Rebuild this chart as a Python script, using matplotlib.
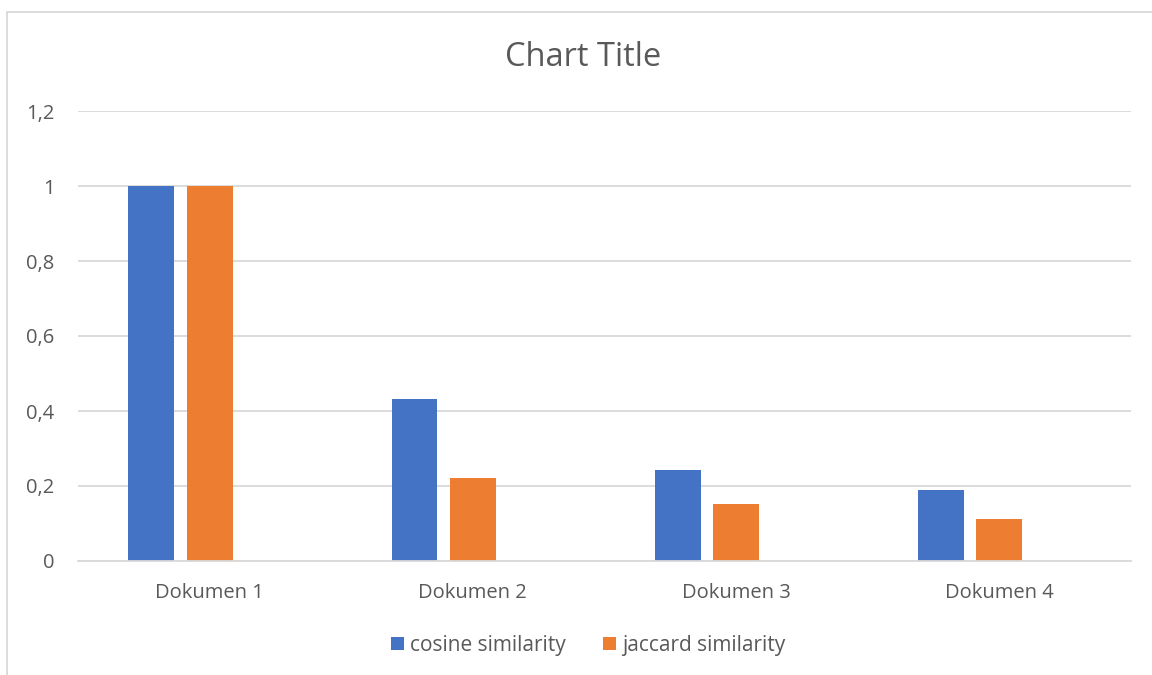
import numpy as np
import matplotlib.pyplot as plt
from matplotlib.patches import Rectangle

categories = ['Dokumen 1', 'Dokumen 2', 'Dokumen 3', 'Dokumen 4']
cosine = [1.0, 0.432, 0.244, 0.189]
jaccard = [1.0, 0.221, 0.153, 0.113]
series_names = ['cosine similarity', 'jaccard similarity']
yticks = [0, 0.2, 0.4, 0.6, 0.8, 1, 1.2]

plt.rcParams['font.family'] = ['Open Sans', 'DejaVu Sans']
txt = '#595959'
grid = '#D9D9D9'

fig = plt.figure(figsize=(11.52, 6.75), dpi=100)
ax = fig.add_axes([78/1152, 1-561/675, (1131-78)/1152, (561-111)/675])

x = np.arange(len(categories))
w = 0.174
b1 = ax.bar(x - 0.222, cosine, w, color='#4472C4', label=series_names[0])
b2 = ax.bar(x, jaccard, w, color='#ED7D31', label=series_names[1])

ax.set_xlim(-0.5, len(categories) - 0.5)
ax.set_ylim(0, 1.2)
ax.set_yticks(yticks)
ax.set_yticklabels([('%g' % v).replace('.', ',') for v in yticks])
ax.set_xticks(x)
ax.set_xticklabels(categories)
ax.yaxis.grid(True, color=grid, lw=1.3)
ax.set_axisbelow(True)
for s in ['top', 'right', 'left']:
    ax.spines[s].set_visible(False)
ax.spines['bottom'].set_color(grid)
ax.spines['bottom'].set_linewidth(1.3)
ax.tick_params(axis='both', length=0, labelsize=14.5, labelcolor=txt)
ax.tick_params(axis='y', pad=17)
ax.tick_params(axis='x', pad=16)

fig.text(583/1152, 1-57/675, 'Chart Title', ha='center', va='center',
         fontsize=23.5, color=txt)

leg = fig.legend(handles=[b1, b2], loc='center', bbox_to_anchor=(588/1152, 1-645/675),
                 ncol=2, frameon=False, fontsize=15, handlelength=0.6, handleheight=0.6,
                 handletextpad=0.3, columnspacing=1.8)
for t in leg.get_texts():
    t.set_color(txt)

# outer chart border (cropped excel frame)
fig.patches.append(Rectangle((7/1152, -0.1), 1.2, 1 - 12/675 + 0.1, transform=fig.transFigure,
                             fill=False, edgecolor=grid, lw=1.3))

fig.savefig('out.png', dpi=100)
